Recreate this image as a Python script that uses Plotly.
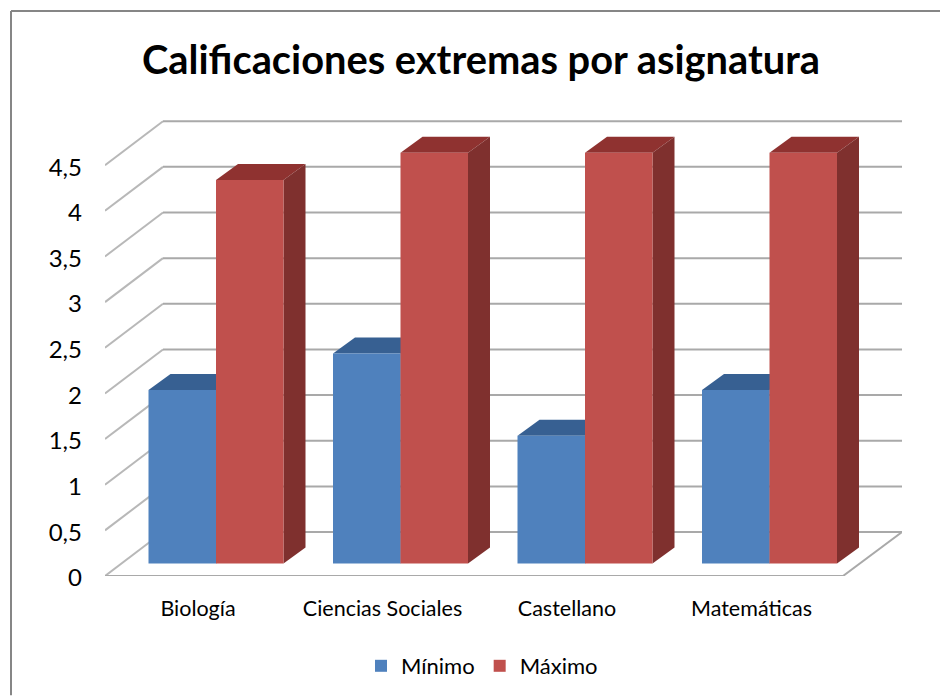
import plotly.graph_objects as go

# Data
categories = ["Biología", "Ciencias Sociales", "Castellano", "Matemáticas"]
minimo = [1.9, 2.3, 1.4, 1.9]
maximo = [4.2, 4.5, 4.5, 4.5]
y_ticks = [0, 0.5, 1, 1.5, 2, 2.5, 3, 3.5, 4, 4.5]
y_labels = ["0", "0,5", "1", "1,5", "2", "2,5", "3", "3,5", "4", "4,5"]
title = "Calificaciones extremas por asignatura"

# Layout constants (pixels in the 940x696 frame)
W, H = 940, 696
PL, PR, PT, PB = 105, 902, 100, 576.5
PX_CAT, PX_VAL = 184.5, 91.4
X0_PX = 216
BAR_W = 67.5 / PX_CAT
BASE = 12.5 / PX_VAL
DX, DY = 22 / PX_CAT, 16 / PX_VAL
WX, WY = 58 / PX_CAT, 44 / PX_VAL
FLOOR_R = (843 - X0_PX) / PX_CAT
XMIN = (PL - X0_PX) / PX_CAT
XMAX = (PR - X0_PX) / PX_CAT
LABEL_SHIFT = 18 / PX_CAT
FONT = "Lato"

BLUE, BLUE_TOP, BLUE_SIDE = "#4F81BD", "#376092", "#2F5580"
RED, RED_TOP, RED_SIDE = "#C0504D", "#8F3230", "#7F302E"
GRID = "#A9A9A9"

xs = list(range(len(categories)))
fig = go.Figure()
fig.add_bar(name="Mínimo", x=xs, y=minimo, base=BASE, width=BAR_W, offset=-BAR_W,
            marker=dict(color=BLUE, line_width=0))
fig.add_bar(name="Máximo", x=xs, y=maximo, base=BASE, width=BAR_W, offset=0,
            marker=dict(color=RED, line_width=0))

shapes = []


def line(x0, y0, x1, y1, color=GRID, width=2):
    shapes.append(dict(type="line", xref="x", yref="y", x0=x0, y0=y0, x1=x1, y1=y1,
                       line=dict(color=color, width=width), layer="below"))


def poly(points, color):
    path = "M " + " L ".join(f"{a},{b}" for a, b in points) + " Z"
    shapes.append(dict(type="path", xref="x", yref="y", path=path, fillcolor=color,
                       line_width=0, layer="below"))


# Walls and floor
for v in y_ticks:
    line(XMIN, v, XMIN + WX, v + WY, color="#B8B8B8")
    line(XMIN + WX, v + WY, XMAX, v + WY)
line(XMIN, 0, FLOOR_R, 0)
line(FLOOR_R, 0, XMAX, WY)

# Depth faces of the bars
for i, (lo, hi) in enumerate(zip(minimo, maximo)):
    for left, v, top_c, side_c in ((i - BAR_W, lo, BLUE_TOP, BLUE_SIDE), (i, hi, RED_TOP, RED_SIDE)):
        right = left + BAR_W
        t = BASE + v
        poly([(left, t), (right, t), (right + DX, t + DY), (left + DX, t + DY)], top_c)
        poly([(right, BASE), (right + DX, BASE + DY), (right + DX, t + DY), (right, t)], side_c)

# Outer frame (left and top edges)
px = lambda p: (p - PL) / (PR - PL)
py = lambda p: (PB - p) / (PB - PT)
for a, b, c, d in ((11, 11, 11, H), (11, 11, W, 11)):
    shapes.append(dict(type="line", xref="paper", yref="paper", x0=px(a), y0=py(b), x1=px(c), y1=py(d),
                       line=dict(color="#868686", width=2)))

fig.update_layout(
    width=W, height=H, autosize=False,
    margin=dict(l=PL, r=W - PR, t=PT, b=H - PB),
    paper_bgcolor="white", plot_bgcolor="white",
    barmode="overlay", shapes=shapes,
    font=dict(family=FONT, color="black", size=18),
    title=dict(text=f"<b>{title}</b>", font=dict(family=FONT, size=39.8, color="black"),
               x=481 / W, xref="container", xanchor="center",
               y=1 - 60 / H, yref="container", yanchor="middle"),
    xaxis=dict(range=[XMIN, XMAX], tickmode="array", tickvals=[x - LABEL_SHIFT for x in xs], ticktext=categories,
               showgrid=False, zeroline=False, showline=False, ticks="", ticklabelstandoff=17,
               tickfont=dict(size=21.5), fixedrange=True),
    yaxis=dict(range=[0, (PB - PT) / PX_VAL], tickmode="array", tickvals=y_ticks, ticktext=y_labels,
               showgrid=False, zeroline=False, showline=False, ticks="", ticklabelstandoff=22,
               ticklabelshift=2, tickfont=dict(size=24), fixedrange=True),
    legend=dict(orientation="h", xref="container", yref="container", x=482 / W, xanchor="center",
                y=1 - 666 / H, yanchor="middle", font=dict(size=22), traceorder="normal"),
)
fig.write_html("out.html", config=dict(displayModeBar=False),
               post_script="document.body.style.margin='0';")
